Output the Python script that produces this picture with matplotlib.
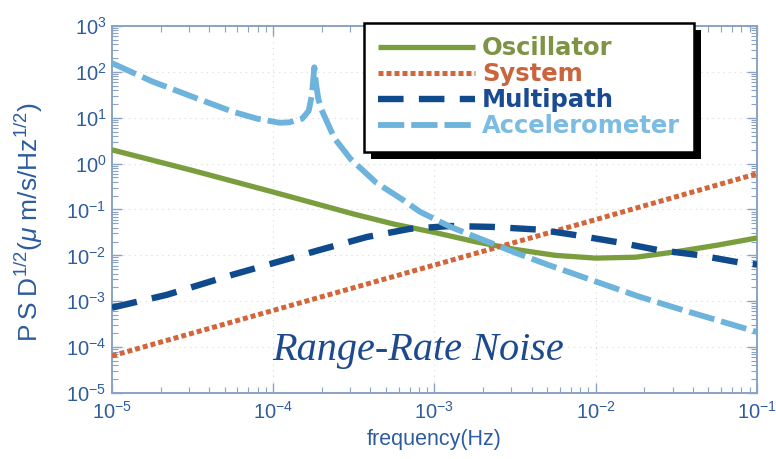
import numpy as np
import matplotlib
matplotlib.use("Agg")
import matplotlib.pyplot as plt
from matplotlib.patches import Rectangle
from matplotlib.ticker import LogLocator, LogFormatterMathtext, NullFormatter

plt.rcParams['mathtext.fontset'] = 'custom'
plt.rcParams['mathtext.rm'] = 'Liberation Sans'
plt.rcParams['mathtext.it'] = 'Liberation Sans:italic'
plt.rcParams['mathtext.bf'] = 'Liberation Sans:bold'
plt.rcParams['font.family'] = ['Liberation Sans', 'DejaVu Sans']

# ---- data (log10 frequency, log10 PSD^1/2) ----
osc_logf = [-5.0, -4.5, -4.0, -3.5, -3.25, -3.0, -2.75, -2.5, -2.25, -2.0, -1.75, -1.5, -1.25, -1.0]
osc_logy = [0.30, -0.15, -0.62, -1.10, -1.32, -1.50, -1.70, -1.87, -2.00, -2.06, -2.04, -1.92, -1.78, -1.62]

sys_logf = [-5.0, -4.0, -3.0, -2.0, -1.0]
sys_logy = [-4.19, -3.20, -2.21, -1.22, -0.22]

mp_logf = [-5.0, -4.66, -4.25, -3.88, -3.71, -3.42, -3.15, -2.90, -2.64, -2.35, -2.14, -1.87, -1.62, -1.37, -1.10, -1.0]
mp_logy = [-3.14, -2.86, -2.42, -2.05, -1.88, -1.60, -1.42, -1.36, -1.38, -1.44, -1.55, -1.71, -1.88, -1.99, -2.16, -2.20]

acc_logf = [-5.0, -4.75, -4.45, -4.25, -4.10, -3.96, -3.90, -3.82, -3.78, -3.76, -3.745, -3.735, -3.72, -3.70,
            -3.62, -3.52, -3.36, -3.20, -3.09, -2.90, -2.70, -2.50, -2.30, -2.00, -1.73, -1.50, -1.0]
acc_logy = [2.19, 1.79, 1.39, 1.13, 0.98, 0.89, 0.90, 0.98, 1.15, 1.50, 2.10, 1.75, 1.40, 1.17,
            0.55, 0.10, -0.42, -0.78, -1.05, -1.38, -1.66, -1.94, -2.20, -2.57, -2.90, -3.15, -3.67]

labels = ['Oscillator', 'System', 'Multipath', 'Accelerometer']
line_colors = ['#7a9e3e', '#d2653a', '#0f4a8c', '#6db3dc']
text_colors = ['#7d9444', '#c9653d', '#1a4a92', '#7cbbe2']

title_text = 'Range-Rate Noise'
blue = '#2d5c9f'

fig = plt.figure(figsize=(7.76, 4.59), dpi=100)
ax = fig.add_axes([0.1443, 0.1438, 0.8312, 0.7996])

def tr(lf, ly):
    return 10.0 ** np.array(lf), 10.0 ** np.array(ly)

f, y = tr(osc_logf, osc_logy)
ax.plot(f, y, color=line_colors[0], lw=3.8, solid_capstyle='butt', solid_joinstyle='round',
        label=labels[0], zorder=3)
f, y = tr(sys_logf, sys_logy)
ax.plot(f, y, color=line_colors[1], lw=3.6, linestyle=(0, (1, 0.6)), label=labels[1], zorder=3)
f, y = tr(mp_logf, mp_logy)
ax.plot(f, y, color=line_colors[2], lw=4.6, linestyle=(0, (4, 2.4)), label=labels[2], zorder=3)
f, y = tr(acc_logf, acc_logy)
ax.plot(f, y, color=line_colors[3], lw=4.2, linestyle=(0, (4.5, 1.2)), label=labels[3], zorder=3)

ax.set_xscale('log')
ax.set_yscale('log')
ax.set_xlim(1e-5, 1e-1)
ax.set_ylim(1e-5, 1e3)

ax.xaxis.set_major_locator(LogLocator(base=10, numticks=20))
ax.yaxis.set_major_locator(LogLocator(base=10, numticks=20))
ax.xaxis.set_minor_locator(LogLocator(base=10, subs=np.arange(2, 10), numticks=20))
ax.yaxis.set_minor_locator(LogLocator(base=10, subs=np.arange(2, 10), numticks=20))
ax.xaxis.set_major_formatter(LogFormatterMathtext())
ax.yaxis.set_major_formatter(LogFormatterMathtext())
ax.xaxis.set_minor_formatter(NullFormatter())
ax.yaxis.set_minor_formatter(NullFormatter())

spine_col = '#8aa3c4'
for s in ax.spines.values():
    s.set_color(spine_col)
    s.set_linewidth(1.4)
ax.tick_params(which='both', direction='in', top=True, right=True, colors=spine_col,
               labelcolor=blue, labelsize=14.5)
ax.tick_params(which='major', length=7, width=1.0)
ax.tick_params(which='minor', length=4, width=0.8)
ax.tick_params(axis='x', pad=6)
ax.tick_params(axis='y', pad=4)
ax.grid(True, which='major', color='#d8d8d8', linestyle=(0, (1, 4)), lw=0.8)

ax.set_xlabel('frequency(Hz)', color=blue, fontsize=15.5, labelpad=4)
ax.set_ylabel('P\u2009S\u2009D$^{1/2}$($\\mu$ m/s/Hz$^{1/2}$)', color=blue, fontsize=19)
ax.yaxis.label.set_va('center')
ax.yaxis.set_label_coords(-0.128, 0.466)

ax.text(0.474, 0.117, title_text, transform=ax.transAxes, ha='center', va='center',
        fontsize=29, color='#1d4a8e', family='Liberation Serif', style='italic', zorder=4)

leg = ax.legend(loc='upper left', bbox_to_anchor=(0.391, 1.008), frameon=True,
                fancybox=False, edgecolor='black', framealpha=1, handlelength=4.0,
                handletextpad=0.3, labelspacing=0.08, borderpad=0.55, borderaxespad=0,
                prop={'family': 'DejaVu Sans', 'weight': 'bold', 'size': 17.5})
leg.get_frame().set_linewidth(1.8)
leg.set_zorder(6)
for t, c in zip(leg.get_texts(), text_colors):
    t.set_color(c)

fig.canvas.draw()
bb = leg.get_window_extent()
shadow = Rectangle((bb.x0 + 7, bb.y0 - 7), bb.width, bb.height, transform=None,
                   facecolor='black', edgecolor='none', clip_on=False, zorder=5.5)
ax.add_patch(shadow)

fig.savefig('out.png', dpi=100)
